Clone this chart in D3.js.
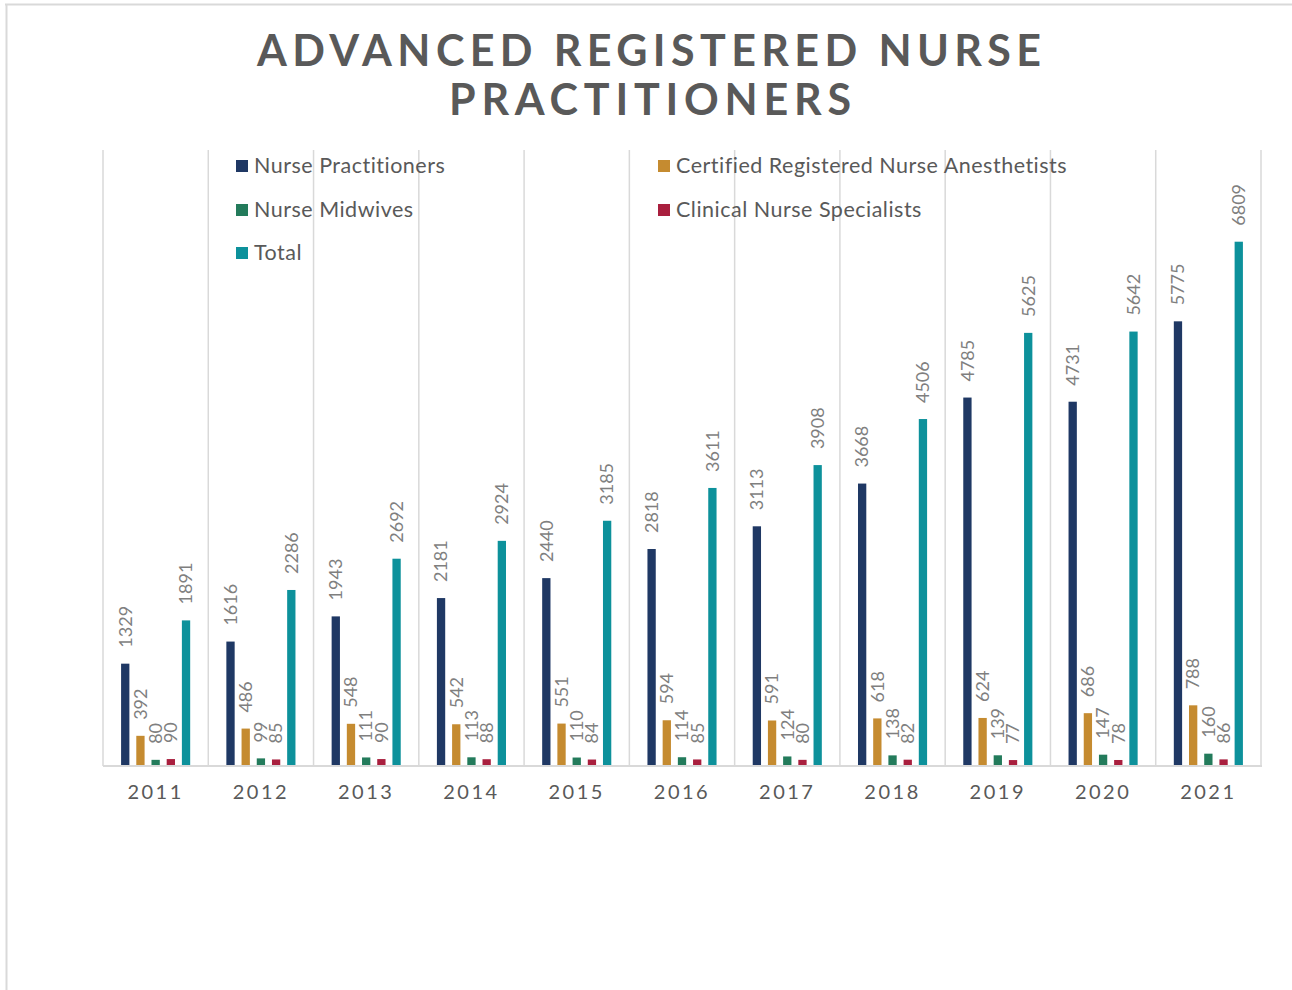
<!DOCTYPE html>
<meta charset="utf-8">
<script src="https://d3js.org/d3.v7.min.js"></script>
<style>
  body { margin: 0; background: #fff; }
  text { font-family: Lato, "Open Sans", sans-serif; }
</style>
<div id="my_dataviz"></div>
<script>

// data
var years = ["2011", "2012", "2013", "2014", "2015", "2016", "2017", "2018", "2019", "2020", "2021"];
var seriesNames = ["Nurse Practitioners", "Certified Registered Nurse Anesthetists", "Nurse Midwives", "Clinical Nurse Specialists", "Total"];
var nursePractitioners = [1329, 1616, 1943, 2181, 2440, 2818, 3113, 3668, 4785, 4731, 5775];
var anesthetists = [392, 486, 548, 542, 551, 594, 591, 618, 624, 686, 788];
var midwives = [80, 99, 111, 113, 110, 114, 124, 138, 139, 147, 160];
var clinicalSpecialists = [90, 85, 90, 88, 84, 85, 80, 82, 77, 78, 86];
var totals = [1891, 2286, 2692, 2924, 3185, 3611, 3908, 4506, 5625, 5642, 6809];
var colors = ["#1f3864", "#c58b30", "#237b5b", "#a91f3e", "#0d919b"];

var allSeries = [nursePractitioners, anesthetists, midwives, clinicalSpecialists, totals];

var W = 1292, H = 990;
var plot = {left: 103, right: 1261, top: 150, bottom: 766};

var svg = d3.select("#my_dataviz")
  .append("svg")
    .attr("width", W)
    .attr("height", H);

// chart frame (only top and left edges show)
svg.append("line")
  .attr("x1", 5).attr("x2", W).attr("y1", 4.5).attr("y2", 4.5)
  .style("stroke", "#d9d9d9").style("stroke-width", 2);
svg.append("line")
  .attr("x1", 6.5).attr("x2", 6.5).attr("y1", 4).attr("y2", H)
  .style("stroke", "#d9d9d9").style("stroke-width", 2);

// title
var title = svg.append("g")
  .attr("fill", "#595959")
  .attr("font-weight", 700)
  .attr("font-size", 43)
  .attr("text-anchor", "middle");
title.append("text").attr("x", 649).attr("y", 66)
  .attr("textLength", 784).attr("lengthAdjust", "spacing")
  .text("ADVANCED REGISTERED NURSE");
title.append("text").attr("x", 650).attr("y", 115)
  .attr("textLength", 402).attr("lengthAdjust", "spacing")
  .text("PRACTITIONERS");

// scales
var x = d3.scaleBand()
  .domain(years)
  .range([plot.left, plot.right])
  .padding(0);

var xSub = d3.scaleBand()
  .domain(d3.range(seriesNames.length))
  .range([0, x.bandwidth()])
  .paddingInner(0.454)
  .paddingOuter(1.19);

var y = d3.scaleLinear()
  .domain([0, 8000])
  .range([plot.bottom, plot.top]);

// vertical gridlines between categories
var edges = years.map(function(d) { return x(d); }).concat([plot.right]);
svg.append("g")
  .selectAll("line")
  .data(edges)
  .enter().append("line")
    .attr("x1", function(d) { return d; })
    .attr("x2", function(d) { return d; })
    .attr("y1", plot.top)
    .attr("y2", plot.bottom)
    .style("stroke", "#d9d9d9")
    .style("stroke-width", 1.5);

// bars
var groups = svg.append("g")
  .selectAll("g")
  .data(years)
  .enter().append("g")
    .attr("transform", function(d) { return "translate(" + x(d) + ",0)"; });

var cells = groups.selectAll("g")
  .data(function(d, i) {
    return allSeries.map(function(s, k) { return {key: k, value: s[i]}; });
  })
  .enter().append("g");

cells.append("rect")
  .attr("x", function(d) { return xSub(d.key); })
  .attr("y", function(d) { return y(d.value); })
  .attr("width", xSub.bandwidth())
  .attr("height", function(d) { return y(0) - y(d.value); })
  .attr("fill", function(d) { return colors[d.key]; });

// rotated value labels
cells.append("text")
  .attr("transform", function(d) {
    return "translate(" + (xSub(d.key) + xSub.bandwidth() / 2) + "," + (y(d.value) - 16) + ") rotate(-90)";
  })
  .attr("dy", "0.35em")
  .attr("font-size", 18)
  .attr("fill", "#7f7f7f")
  .text(function(d) { return d.value; });

// baseline
svg.append("line")
  .attr("x1", plot.left).attr("x2", plot.right + 1)
  .attr("y1", plot.bottom).attr("y2", plot.bottom)
  .style("stroke", "#d9d9d9").style("stroke-width", 2);

// year labels
svg.append("g")
  .selectAll("text")
  .data(years)
  .enter().append("text")
    .attr("x", function(d) { return x(d) + x.bandwidth() / 2; })
    .attr("y", 799)
    .attr("text-anchor", "middle")
    .attr("font-size", 20)
    .attr("letter-spacing", 2.5)
    .attr("fill", "#595959")
    .text(function(d) { return d; });

// legend
var legendPos = [
  {x: 236, y: 173},
  {x: 658, y: 173},
  {x: 236, y: 217},
  {x: 658, y: 217},
  {x: 236, y: 260}
];
var legend = svg.append("g")
  .selectAll("g")
  .data(seriesNames)
  .enter().append("g")
    .attr("transform", function(d, i) { return "translate(" + legendPos[i].x + "," + legendPos[i].y + ")"; });

legend.append("rect")
  .attr("x", 0).attr("y", -13)
  .attr("width", 12).attr("height", 12)
  .attr("fill", function(d, i) { return colors[i]; });

legend.append("text")
  .attr("x", 18)
  .attr("y", 0)
  .attr("font-size", 21.5)
  .attr("letter-spacing", 0.5)
  .attr("fill", "#595959")
  .text(function(d) { return d; });

</script>
